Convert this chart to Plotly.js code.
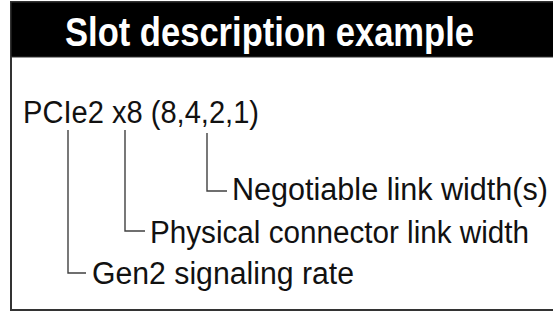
<!DOCTYPE html>
<html><head><meta charset="utf-8">
<script src="https://cdn.plot.ly/plotly-3.0.1.min.js"></script>
<style>html,body{margin:0;padding:0;background:#fff;}#chart{width:553px;height:313px;}</style>
</head><body><div id="chart"></div>
<script>
// Diagram content
const titleText = "Slot description example";
const slotText = "PCIe2 x8 (8,4,2,1)";
const calloutLabels = ["Negotiable link width(s)", "Physical connector link width", "Gen2 signaling rate"];

const W = 553, H = 313;
const bodyFont = "'Liberation Sans', Arial, sans-serif";
const lineColor = "#404040";

// callout geometry (pixel space)
const callouts = [
  {vx: 207, top: 133, hy: 191, hx1: 227, tx: 231, base: 199, w: 316},
  {vx: 125, top: 130, hy: 231, hx1: 145, tx: 149, base: 242, w: 379},
  {vx: 68,  top: 130, hy: 273, hx1: 86,  tx: 91,  base: 283, w: 262}
];

const shapes = [
  {type:'rect', xref:'x', yref:'y', x0:11, x1:W+10, y0:2, y1:310, line:{color:'#333', width:2}, fillcolor:'#fff', layer:'below'},
  {type:'rect', xref:'x', yref:'y', x0:11, x1:W+10, y0:2, y1:57, line:{color:'#333', width:1}, fillcolor:'#000', layer:'below'}
];
callouts.forEach(c => {
  shapes.push({type:'path', xref:'x', yref:'y',
    path:`M ${c.vx} ${c.top} L ${c.vx} ${c.hy} L ${c.hx1} ${c.hy}`,
    line:{color:lineColor, width:1.4}});
});

const annotations = [];
const widths = [];
const bfs = 30.8, tfs = 41;
function addText(txt, x, base, fs, color, w) {
  annotations.push({text:txt, xref:'x', yref:'y', x:x, y:base - 0.32*fs, xanchor:'left', yanchor:'middle', align:'left',
    showarrow:false, borderpad:0, font:{family:bodyFont, size:fs, color:color}});
  widths.push(w);
}
addText('<b>'+titleText+'</b>', 64, 45, tfs, '#fff', 409);
addText(slotText, 22, 122, bfs, '#111', 236);
callouts.forEach((c,i) => addText(calloutLabels[i], c.tx, c.base, bfs, '#111', c.w));

const layout = {
  width:W, height:H, margin:{l:0,r:0,t:0,b:0},
  paper_bgcolor:'#fff', plot_bgcolor:'#fff',
  xaxis:{range:[0,W], visible:false, fixedrange:true},
  yaxis:{range:[H,0], visible:false, fixedrange:true},
  showlegend:false, shapes, annotations
};
Plotly.newPlot('chart', [{x:[0], y:[0], mode:'markers', marker:{opacity:0}, hoverinfo:'skip', showlegend:false}], layout, {displayModeBar:false, staticPlot:true})
.then(() => {
  document.querySelectorAll('#chart .annotation-text').forEach((t, i) => {
    if (widths[i]) { t.setAttribute('textLength', widths[i]); t.setAttribute('lengthAdjust', 'spacingAndGlyphs'); }
  });
});
</script></body></html>
